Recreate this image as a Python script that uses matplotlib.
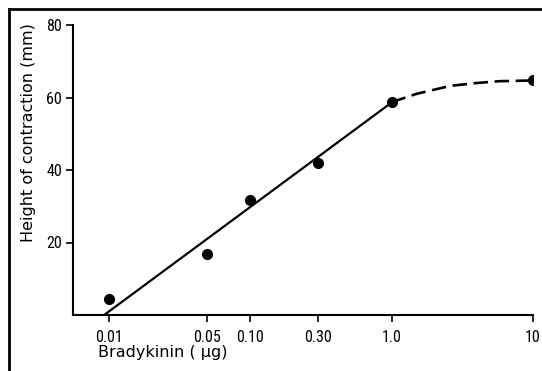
import matplotlib
matplotlib.use("Agg")
import matplotlib.pyplot as plt
from matplotlib.lines import Line2D

plt.rcParams['font.family'] = ['Roboto Condensed', 'DejaVu Sans']

# Data
dose = [0.01, 0.05, 0.10, 0.30, 1.0, 10]
height = [4.5, 16.8, 31.6, 41.8, 58.7, 64.7]
tick_vals = [0.01, 0.05, 0.10, 0.30, 1.0, 10]
tick_labels = ["0.01", "0.05", "0.10", "0.30", "1.0", "10"]
fit_x = [0.0093, 1.0]
fit_y = [0.0, 58.6]
curve_x = [1.0, 1.5, 2.6, 4.0, 5.8, 10]
curve_y = [58.7, 61.0, 63.2, 64.0, 64.5, 64.7]

fig = plt.figure(figsize=(5.42, 3.71), dpi=100)
ax = fig.add_axes([73/542, 1-315/371, (533-73)/542, (315-25)/371])

ax.plot(fit_x, fit_y, color="black", lw=1.6, solid_capstyle="butt")
ax.plot(curve_x, curve_y, color="black", lw=1.9, ls=(0, (5.5, 2.5)))
ax.plot(dose, height, "o", color="black", ms=7)

ax.set_xscale("log")
ax.set_xlim(0.0056, 10)
ax.set_ylim(0, 80)
ax.set_xticks(tick_vals)
ax.set_xticklabels(tick_labels)
ax.minorticks_off()
ax.set_yticks([20, 40, 60, 80])
for s in ["top", "right"]:
    ax.spines[s].set_visible(False)
for s in ["left", "bottom"]:
    ax.spines[s].set_linewidth(1.5)
ax.tick_params(axis="both", direction="out", length=5, width=1.2, labelsize=11.5, pad=3)
ax.tick_params(axis="x", pad=6)
fig.text(29/542, 1-133/371, "Height of contraction (mm)", fontsize=11.5,
         family="DejaVu Sans", rotation=90, ha="center", va="center")
fig.text(98/542, 1-357/371, "Bradykinin ( µg)", fontsize=11.5, family="DejaVu Sans",
         ha="left", va="baseline")

# scan border (left and top)
fig.add_artist(Line2D([9/542, 9/542], [0, 1-9/371], transform=fig.transFigure, color="black", lw=2))
fig.add_artist(Line2D([9/542, 1], [1-9/371, 1-9/371], transform=fig.transFigure, color="black", lw=2))

fig.savefig("out.png", dpi=100)
